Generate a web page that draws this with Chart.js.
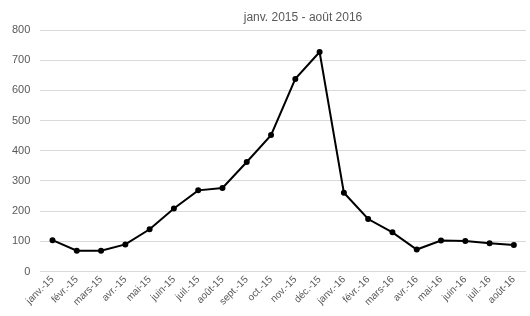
<!DOCTYPE html>
<html>
<head>
<meta charset="utf-8">
<script src="https://cdn.jsdelivr.net/npm/chart.js@4/dist/chart.umd.min.js"></script>
<style>
  html, body { margin: 0; padding: 0; background: #fff; }
  #wrap { width: 530px; height: 316px; }
</style>
</head>
<body>
<div id="wrap"><canvas id="chart"></canvas></div>
<script>
// données
var months = ["janv.-15","févr.-15","mars-15","avr.-15","mai-15","juin-15","juil.-15","août-15",
  "sept.-15","oct.-15","nov.-15","déc.-15","janv.-16","févr.-16","mars-16","avr.-16",
  "mai-16","juin-16","juil.-16","août-16"];
var values = [104, 69, 69, 90, 140, 209, 269, 277, 363, 452, 638, 727, 261, 174, 130, 73, 103, 101, 94, 88];
var titleText = "janv. 2015 - août 2016";

// titre dessiné à la main (décalé vers la droite comme sur l'original)
var titlePlugin = {
  id: 'titreDecale',
  afterDraw: function (chart) {
    var ctx = chart.ctx;
    ctx.save();
    ctx.font = '12px "Liberation Sans", Arial, sans-serif';
    ctx.fillStyle = '#595959';
    ctx.textAlign = 'center';
    ctx.textBaseline = 'middle';
    ctx.fillText(titleText, 303, 18);
    ctx.restore();
  }
};

var ctx = document.getElementById('chart');
var myChart = new Chart(ctx, {
  type: 'line',
  data: {
    labels: months,
    datasets: [{
      data: values,
      fill: false,
      borderColor: '#000000',
      backgroundColor: '#000000',
      borderWidth: 2,
      pointRadius: 2,
      pointHoverRadius: 2,
      pointBackgroundColor: '#000000',
      pointBorderColor: '#000000',
      tension: 0
    }]
  },
  options: {
    responsive: true,
    maintainAspectRatio: false,
    animation: false,
    layout: { padding: { top: 30, right: 2, left: 2, bottom: 6 } },
    plugins: {
      legend: { display: false },
      title: { display: false },
      tooltip: { enabled: false }
    },
    scales: {
      x: {
        offset: true,
        grid: { display: false, drawTicks: false },
        border: { display: false },
        ticks: {
          color: '#595959',
          font: { family: '"Liberation Sans", Arial, sans-serif', size: 10 },
          maxRotation: 45,
          minRotation: 45,
          autoSkip: false,
          padding: 2
        }
      },
      y: {
        min: 0,
        max: 800,
        grid: { color: '#d9d9d9', drawTicks: false, lineWidth: 1 },
        border: { display: false },
        ticks: {
          stepSize: 100,
          color: '#595959',
          font: { family: '"Liberation Sans", Arial, sans-serif', size: 11 },
          padding: 10
        }
      }
    }
  },
  plugins: [titlePlugin]
});
</script>
</body>
</html>
